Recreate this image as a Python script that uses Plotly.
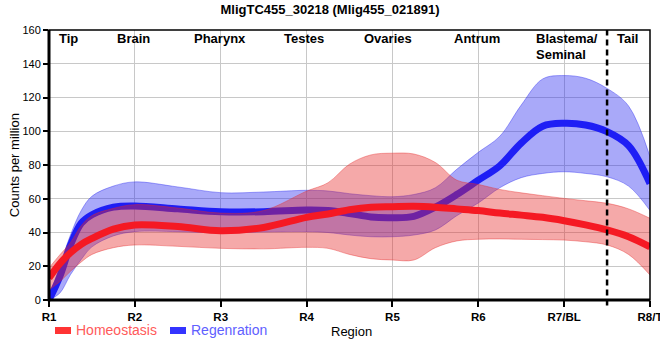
import plotly.graph_objects as go

# ---------------- data ----------------
categories = ["R1", "R2", "R3", "R4", "R5", "R6", "R7/BL", "R8/T"]
# sample positions along the body axis (0 = R1 ... 7 = R8/T)
pos = [0, 0.125, 0.25, 0.375, 0.5, 0.75, 1, 1.5, 2, 2.5, 3, 3.25, 3.5, 3.75,
       4, 4.25, 4.5, 4.75, 5, 5.25, 5.5, 5.75, 6, 6.25, 6.5, 6.75, 7]

homeo_mean = [13, 21.5, 28, 33, 36.5, 42, 44.5, 43.5, 41, 43, 49, 51, 53.5, 55,
              55.3, 55.5, 55, 54, 53, 51.5, 50.3, 49, 47, 44.5, 41.5, 37.5, 31.5]
homeo_upper = [19, 26.7, 34, 44, 50, 54.3, 56.5, 54.5, 51.5, 53, 64.5, 69.5, 80.5, 86,
               87, 86.5, 81.5, 71, 68.5, 65.5, 63.5, 61.8, 60.2, 58.8, 57.3, 54, 48.4]
homeo_lower = [6, 10.8, 17, 22.5, 27, 31, 32.6, 31.8, 30.6, 30.3, 31.2, 30.6, 27, 24.5,
               23.7, 23.7, 31, 35, 36, 36.2, 36, 35.8, 35.5, 34.5, 32.6, 27, 14.8]

regen_mean = [0, 13.8, 32.5, 45.5, 50.5, 55, 55.7, 54, 52.3, 52.3, 53.3, 53, 51.3, 49.2,
              48.8, 49.6, 55, 62.5, 71, 79.5, 93, 103, 104.7, 103.7, 99.8, 91.5, 69]
regen_upper = [1, 20, 38.5, 53, 61.5, 67.5, 70, 67, 63.6, 64, 65, 64.6, 63, 61.8,
               61.2, 62.5, 66.5, 77.5, 87.5, 97, 115.5, 131, 133, 131.4, 125.4, 115, 85]
regen_lower = [0, 4, 15, 24, 31.5, 38, 40.5, 40.5, 39.8, 40.3, 40.5, 40, 38.5, 37.5,
               37.5, 38.5, 41.5, 50, 57.5, 66.5, 72.5, 75, 76, 75, 73, 67.5, 53]

region_names = ["Tip", "Brain", "Pharynx", "Testes", "Ovaries", "Antrum", "Tail"]
region_pos = [0.23, 0.98, 1.99, 2.97, 3.95, 4.98, 6.74]
blastema_label = ["Blastema/", "Seminal"]
blastema_pos = 5.65
tail_boundary = 6.5

y_ticks = [0, 20, 40, 60, 80, 100, 120, 140, 160]

FONT = "Liberation Sans, Arial, sans-serif"
RED_BAND = "rgba(230,40,40,0.4)"
BLUE_BAND = "rgba(40,40,240,0.4)"
RED_LINE = "rgb(245,25,35)"
BLUE_LINE = "rgb(30,30,245)"

fig = go.Figure()

# Regeneration band + line (drawn first, underneath)
fig.add_trace(go.Scatter(x=pos, y=regen_lower, mode="lines", line=dict(color=BLUE_BAND, width=1, shape="spline"),
                         showlegend=False, hoverinfo="skip"))
fig.add_trace(go.Scatter(x=pos, y=regen_upper, mode="lines", fill="tonexty", fillcolor=BLUE_BAND,
                         line=dict(color=BLUE_BAND, width=1, shape="spline"), showlegend=False, hoverinfo="skip"))
fig.add_trace(go.Scatter(x=pos, y=regen_mean, mode="lines", name="Regenration",
                         line=dict(color=BLUE_LINE, width=7, shape="spline"), showlegend=False))

# Homeostasis band + line
fig.add_trace(go.Scatter(x=pos, y=homeo_lower, mode="lines", line=dict(color=RED_BAND, width=1, shape="spline"),
                         showlegend=False, hoverinfo="skip"))
fig.add_trace(go.Scatter(x=pos, y=homeo_upper, mode="lines", fill="tonexty", fillcolor=RED_BAND,
                         line=dict(color=RED_BAND, width=1, shape="spline"), showlegend=False, hoverinfo="skip"))
fig.add_trace(go.Scatter(x=pos, y=homeo_mean, mode="lines", name="Homeostasis",
                         line=dict(color=RED_LINE, width=7, shape="spline"), showlegend=False))

ann = []
for name, p in zip(region_names, region_pos):
    ann.append(dict(x=p, y=0.967, xref="x", yref="paper", text="<b>%s</b>" % name, showarrow=False,
                    xanchor="center", yanchor="middle", font=dict(family=FONT, size=13, color="black")))
ann.append(dict(x=blastema_pos, y=0.967, xref="x", yref="paper", text="<b>%s</b>" % blastema_label[0],
                showarrow=False, xanchor="left", yanchor="middle", font=dict(family=FONT, size=13, color="black")))
ann.append(dict(x=blastema_pos, y=0.911, xref="x", yref="paper", text="<b>%s</b>" % blastema_label[1],
                showarrow=False, xanchor="left", yanchor="middle", font=dict(family=FONT, size=13, color="black")))
# axis titles
ann.append(dict(x=-0.058, y=0.5, xref="paper", yref="paper", text="Counts per million", textangle=-90,
                showarrow=False, xanchor="center", yanchor="middle", font=dict(family=FONT, size=13, color="black")))
ann.append(dict(x=0.5025, y=-0.118, xref="paper", yref="paper", text="Region",
                showarrow=False, xanchor="center", yanchor="middle", font=dict(family=FONT, size=13, color="black")))
# legend texts
ann.append(dict(x=0.0416, y=-0.111, xref="paper", yref="paper", text="Homeostasis",
                showarrow=False, xanchor="left", yanchor="middle", font=dict(family=FONT, size=14, color="#ff5a5a")))
ann.append(dict(x=0.233, y=-0.111, xref="paper", yref="paper", text="Regenration",
                showarrow=False, xanchor="left", yanchor="middle", font=dict(family=FONT, size=14, color="#6060ff")))

shapes = [
    # legend swatches
    dict(type="rect", xref="paper", yref="paper", x0=0.010, x1=0.0366, y0=-0.100, y1=-0.126,
         fillcolor="#ff3434", line=dict(width=0)),
    dict(type="rect", xref="paper", yref="paper", x0=0.2013, x1=0.228, y0=-0.100, y1=-0.126,
         fillcolor="#3434ff", line=dict(width=0)),
    # tail boundary
    dict(type="line", xref="x", yref="paper", x0=tail_boundary, x1=tail_boundary, y0=-0.02, y1=1,
         line=dict(color="black", width=2.5, dash="6px,4px"), layer="above"),
    # frame
    dict(type="rect", xref="paper", yref="paper", x0=0, x1=1, y0=0, y1=1,
         line=dict(color="black", width=1.5), layer="above"),
    # thick left and bottom axes
    dict(type="line", xref="paper", yref="paper", x0=0, x1=0, y0=-0.005, y1=1,
         line=dict(color="black", width=3), layer="above"),
    dict(type="line", xref="paper", yref="paper", x0=0, x1=1, y0=0, y1=0,
         line=dict(color="black", width=3), layer="above"),
]

fig.update_layout(
    width=660, height=360,
    margin=dict(l=49, r=10, t=30, b=60),
    paper_bgcolor="white", plot_bgcolor="white",
    title=dict(text="<b>MligTC455_30218 (Mlig455_021891)</b>", x=0.5, xref="container", xanchor="center",
               y=1 - 9 / 360, yref="container", yanchor="middle",
               font=dict(family=FONT, size=13, color="black")),
    showlegend=False,
    annotations=ann,
    shapes=shapes,
    xaxis=dict(range=[0, 7], tickmode="array", tickvals=list(range(len(categories))),
               ticktext=["<b>%s</b>" % c for c in categories], ticklabeloverflow="allow",
               showgrid=True, gridcolor="#c8c8c8", gridwidth=1, zeroline=False, showline=False,
               ticks="outside", ticklen=6, tickwidth=1.5, tickcolor="black", automargin=False,
               tickfont=dict(family=FONT, size=11.5, color="black")),
    yaxis=dict(range=[0, 160], tickmode="array", tickvals=y_ticks,
               showgrid=True, gridcolor="#c8c8c8", gridwidth=1, zeroline=False, showline=False,
               ticks="outside", ticklen=5, tickwidth=1.5, tickcolor="black", automargin=False,
               tickfont=dict(family=FONT, size=11, color="black")),
)

fig.write_html("out.html", config={"displayModeBar": False},
               post_script="document.body.style.margin='0px';document.body.style.overflow='hidden';")
